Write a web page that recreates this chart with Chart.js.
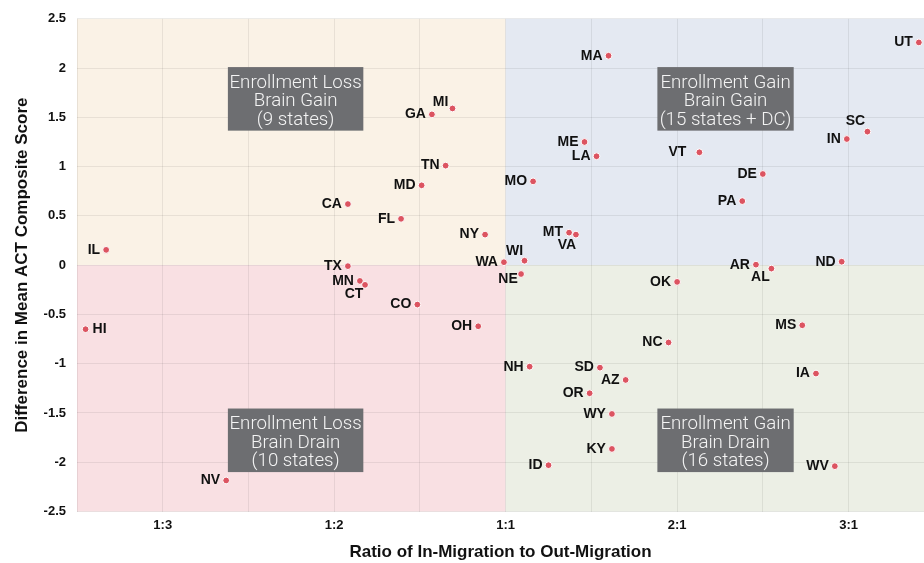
<!DOCTYPE html>
<html>
<head>
<meta charset="utf-8">
<script src="https://cdn.jsdelivr.net/npm/chart.js@4"></script>
<style>
  html, body { margin: 0; padding: 0; background: #fff; overflow: hidden; }
  canvas { display: block; }
</style>
</head>
<body>
<canvas id="chart" width="924" height="563"></canvas>
<script>
// States shown on the chart
const states = ['UT', 'MA', 'SC', 'IN', 'VT', 'DE', 'PA', 'ME', 'LA', 'MO',
  'MI', 'GA', 'TN', 'MD', 'CA', 'FL', 'NY', 'MT', 'VA', 'WI',
  'WA', 'NE', 'TX', 'MN', 'CT', 'CO', 'OH', 'IL', 'HI', 'NV',
  'AR', 'AL', 'ND', 'OK', 'MS', 'NC', 'NH', 'SD', 'AZ', 'IA',
  'OR', 'WY', 'KY', 'ID', 'WV'];

// Migration ratio on the axis scale: 0 = 1:1, 1 = 2:1, 2 = 3:1, -1 = 1:2, -2 = 1:3
const migration = [2.41, 0.60, 2.11, 1.99, 1.13, 1.50, 1.38, 0.46, 0.53, 0.16,
  -0.31, -0.43, -0.35, -0.49, -0.92, -0.61, -0.12, 0.37, 0.41, 0.11,
  -0.01, 0.09, -0.92, -0.85, -0.82, -0.515, -0.16, -2.33, -2.45, -1.63,
  1.46, 1.55, 1.96, 1.00, 1.73, 0.95, 0.14, 0.55, 0.70, 1.81,
  0.49, 0.62, 0.62, 0.25, 1.92];

// Difference in mean ACT composite score
const actDiff = [2.26, 2.125, 1.355, 1.28, 1.145, 0.925, 0.65, 1.25, 1.105, 0.85,
  1.59, 1.53, 1.01, 0.81, 0.62, 0.47, 0.31, 0.33, 0.31, 0.045,
  0.03, -0.09, -0.01, -0.16, -0.20, -0.40, -0.62, 0.155, -0.65, -2.185,
  0.005, -0.035, 0.035, -0.17, -0.61, -0.785, -1.03, -1.04, -1.165, -1.10,
  -1.30, -1.51, -1.865, -2.03, -2.04];

const xTickValues = [-2, -1, 0, 1, 2];
const xTickLabels = ['1:3', '1:2', '1:1', '2:1', '3:1'];

const quadrantNotes = [
  ['Enrollment Loss', 'Brain Gain', '(9 states)'],
  ['Enrollment Gain', 'Brain Gain', '(15 states + DC)'],
  ['Enrollment Loss', 'Brain Drain', '(10 states)'],
  ['Enrollment Gain', 'Brain Drain', '(16 states)']
];

// labels that don't sit straight left of their dot
const labelSpots = {
  SC: { dx: -12, dy: -10, align: 'center' },
  MI: { dx: -12, dy: -6, align: 'center' },
  VA: { dx: -9, dy: 11, align: 'center' },
  WI: { dx: -10, dy: -10, align: 'center' },
  NE: { dx: -13, dy: 5, align: 'center' },
  CT: { dx: -11, dy: 9, align: 'center' },
  AL: { dx: -11, dy: 9, align: 'center' },
  VT: { dx: -13, dy: 0, align: 'right' },
  HI: { dx: 7, dy: 0, align: 'left' }
};

const quadrantBg = {
  id: 'quadrantBg',
  beforeDraw(chart) {
    const { ctx, chartArea: a, scales: { x, y } } = chart;
    const cx = x.getPixelForValue(0);
    const cy = y.getPixelForValue(0);
    ctx.save();
    ctx.fillStyle = '#faf2e6';
    ctx.fillRect(a.left, a.top, cx - a.left, cy - a.top);
    ctx.fillStyle = '#e4e9f2';
    ctx.fillRect(cx, a.top, a.right - cx, cy - a.top);
    ctx.fillStyle = '#f9e0e3';
    ctx.fillRect(a.left, cy, cx - a.left, a.bottom - cy);
    ctx.fillStyle = '#ecefe5';
    ctx.fillRect(cx, cy, a.right - cx, a.bottom - cy);
    ctx.restore();
  }
};

const noteBoxes = {
  id: 'noteBoxes',
  beforeDatasetsDraw(chart) {
    const { ctx, scales: { x, y } } = chart;
    const cols = [[-1.62, -0.83], [0.885, 1.68]];
    const rows = [[2.01, 1.365], [-1.455, -2.10]];
    ctx.save();
    quadrantNotes.forEach((lines, i) => {
      const c = cols[i % 2], r = rows[Math.floor(i / 2)];
      const left = x.getPixelForValue(c[0]), right = x.getPixelForValue(c[1]);
      const top = y.getPixelForValue(r[0]), bottom = y.getPixelForValue(r[1]);
      ctx.fillStyle = '#6d6e71';
      ctx.fillRect(left, top, right - left, bottom - top);
      ctx.fillStyle = '#f4f4f4';
      ctx.font = '300 18.7px Roboto, "Liberation Sans", sans-serif';
      ctx.textAlign = 'center';
      ctx.textBaseline = 'alphabetic';
      lines.forEach((t, k) => {
        ctx.fillText(t, (left + right) / 2, top + 20.5 + k * 18.7);
      });
    });
    ctx.restore();
  }
};

const stateLabels = {
  id: 'stateLabels',
  afterDatasetsDraw(chart) {
    const { ctx } = chart;
    const pts = chart.getDatasetMeta(0).data;
    ctx.save();
    ctx.font = 'bold 14px "Liberation Sans", Arial, sans-serif';
    ctx.fillStyle = '#111';
    ctx.textBaseline = 'middle';
    pts.forEach((p, i) => {
      const spot = labelSpots[states[i]] || { dx: -6, dy: 0, align: 'right' };
      ctx.textAlign = spot.align;
      ctx.fillText(states[i], p.x + spot.dx, p.y + spot.dy);
    });
    ctx.restore();
  }
};

const tickFont = { family: '"Liberation Sans", Arial, sans-serif', size: 13, weight: 'bold' };
const titleFont = { family: '"Liberation Sans", Arial, sans-serif', size: 17, weight: 'bold' };

new Chart(document.getElementById('chart'), {
  type: 'scatter',
  data: {
    datasets: [{
      data: states.map((s, i) => ({ x: migration[i], y: actDiff[i] })),
      backgroundColor: '#dc5461',
      borderColor: '#ffffff',
      borderWidth: 1,
      pointRadius: 3.4
    }]
  },
  options: {
    responsive: false,
    animation: false,
    layout: { autoPadding: false, padding: { top: 16, right: 0, bottom: 0, left: 0 } },
    plugins: {
      legend: { display: false },
      tooltip: { enabled: false }
    },
    scales: {
      x: {
        type: 'linear',
        min: -2.5,
        max: 2.44,
        afterBuildTicks: (scale) => {
          const t = [];
          for (let v = -2.5; v <= 2; v += 0.5) t.push({ value: v });
          scale.ticks = t;
        },
        afterFit: (scale) => { scale.height = 51.5; },
        grid: { color: 'rgba(0,0,0,0.07)', drawTicks: false },
        border: { display: false },
        ticks: {
          padding: 6,
          color: '#111',
          font: tickFont,
          maxRotation: 0,
          autoSkip: false,
          callback: (v) => {
            const k = xTickValues.indexOf(v);
            return k >= 0 ? xTickLabels[k] : '';
          }
        },
        title: {
          display: true,
          text: 'Ratio of In-Migration to Out-Migration',
          color: '#111',
          font: titleFont,
          padding: { top: 0, bottom: 0 }
        }
      },
      y: {
        min: -2.5,
        max: 2.5,
        afterFit: (scale) => { scale.width = 77; },
        grid: { color: 'rgba(0,0,0,0.07)', drawTicks: false },
        border: { display: false },
        ticks: {
          stepSize: 0.5,
          padding: 11,
          color: '#111',
          font: tickFont,
          callback: (v) => String(v)
        },
        title: {
          display: true,
          text: 'Difference in Mean ACT Composite Score',
          color: '#111',
          font: titleFont,
          padding: { top: 12, bottom: 0 }
        }
      }
    }
  },
  plugins: [quadrantBg, noteBoxes, stateLabels]
});
</script>
</body>
</html>
